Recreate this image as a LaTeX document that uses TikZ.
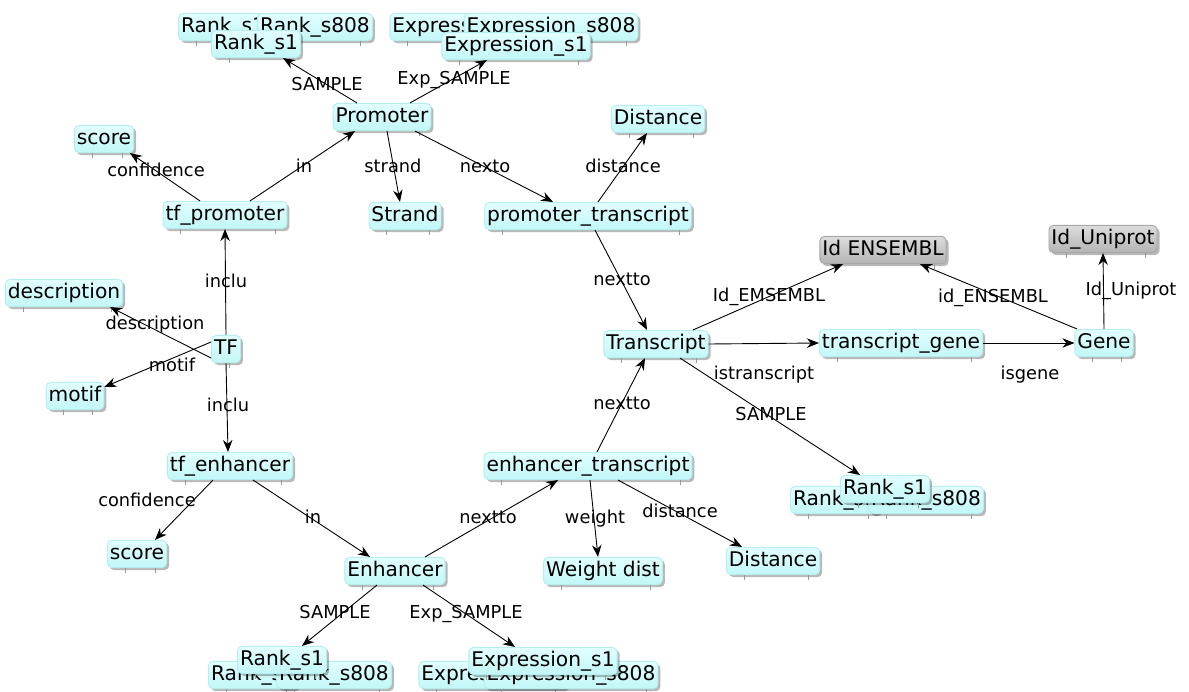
\documentclass[tikz,border=0pt]{standalone}
\usepackage{fontspec}
\setmainfont{DejaVu Sans}
\usetikzlibrary{shadows,arrows.meta,calc}
\definecolor{cyantop}{HTML}{E2FFFF}
\definecolor{cyanbot}{HTML}{C2F7F7}
\definecolor{cyanline}{HTML}{B4EEEE}
\definecolor{graytop}{HTML}{DCDCDC}
\definecolor{graybot}{HTML}{B4B4B4}
\definecolor{grayline}{HTML}{A8A8A8}
\newcommand\entfont{\fontsize{20.2}{23}\selectfont}
\newcommand\lblfont{\fontsize{17.8}{20}\selectfont}
\tikzset{
  tickline/.style={draw=black!40, line width=0.7pt},
  ent/.style={rounded corners=4.5pt, draw=cyanline, line width=0.9pt,
    top color=cyantop, bottom color=cyanbot,
    inner xsep=2.5pt, inner ysep=4pt, text height=15pt, text depth=4.2pt,
    font=\entfont,
    drop shadow={opacity=0.28, shadow xshift=2.5pt, shadow yshift=-2.5pt, fill=black},
    append after command={
      ([xshift=18pt]\tikzlastnode.south west) edge[tickline] ([xshift=18pt,yshift=-5pt]\tikzlastnode.south west)
      ([xshift=-12pt]\tikzlastnode.south east) edge[tickline] ([xshift=-12pt,yshift=-5pt]\tikzlastnode.south east)}},
  gent/.style={ent, draw=grayline, top color=graytop, bottom color=graybot},
  lbl/.style={font=\lblfont, inner sep=0pt, text height=12.8pt, text depth=3.6pt},
  edge line/.style={draw=black, line width=0.9pt, -{Stealth[length=12pt,width=9.5pt]}}
}
\begin{document}
\begin{tikzpicture}[x=1pt,y=-1pt]
\useasboundingbox (0,0) rectangle (1189,691);
% top sample nodes
\node[ent] (RankTb) at (223,27) {Rank\_s1};
\node[ent] (RankT808) at (315,27) {Rank\_s808};
\node[ent] (RankTf) at (256,44) {Rank\_s1};
\node[ent] (ExpTb) at (464,27) {Expression\_s1};
\node[ent] (ExpT808) at (551,27) {Expression\_s808};
\node[ent] (ExpTf) at (516,46) {Expression\_s1};
% main nodes
\node[ent] (Promoter) at (382,117) {Promoter};
\node[ent] (DistT) at (658,119) {Distance};
\node[ent] (scoreT) at (104,139) {score};
\node[ent] (tfp) at (225,215) {tf\_promoter};
\node[ent] (Strand) at (405,216) {Strand};
\node[ent] (pt) at (588,216) {promoter\_transcript};
\node[gent] (IdE) at (883,250) {Id ENSEMBL};
\node[gent] (IdU) at (1103,239) {Id\_Uniprot};
\node[ent] (desc) at (64,293) {description};
\node[ent] (Transcript) at (656,344) {Transcript};
\node[ent] (tg) at (901,343) {transcript\_gene};
\node[ent] (Gene) at (1104,343) {Gene};
\node[ent] (TF) at (226,349) {TF};
\node[ent] (motif) at (75,396) {motif};
\node[ent] (tfe) at (230,466) {tf\_enhancer};
\node[ent] (et) at (588,466) {enhancer\_transcript};
\node[ent] (RankRb) at (835,500) {Rank\_s1};
\node[ent] (RankR808) at (926,500) {Rank\_s808};
\node[ent] (RankRf) at (885,489) {Rank\_s1};
\node[ent] (scoreB) at (137,554) {score};
\node[ent] (DistB) at (773,561) {Distance};
\node[ent] (Enhancer) at (395,571) {Enhancer};
\node[ent] (WD) at (603,571) {Weight dist};
\node[ent] (RankBb) at (253,675) {Rank\_s1};
\node[ent] (RankB808) at (334,675) {Rank\_s808};
\node[ent] (RankBf) at (282,660) {Rank\_s1};
\node[ent] (ExpBb) at (493,675) {Expression\_s1};
\node[ent] (ExpB808) at (571,675) {Expression\_s808};
\node[ent] (ExpBf) at (543,661) {Expression\_s1};
% edges
\draw[edge line] ([xshift=-25pt]Promoter.north) -- ([xshift=27pt]RankTf.south);
\draw[edge line] ([xshift=28pt]Promoter.north) -- ([xshift=-29pt]ExpTf.south);
\draw[edge line] ([xshift=25pt]tfp.north) -- ([xshift=-27pt]Promoter.south);
\draw[edge line] ([xshift=5pt]Promoter.south) -- ([xshift=-5pt]Strand.north);
\draw[edge line] ([xshift=33pt]Promoter.south) -- ([xshift=-35pt]pt.north);
\draw[edge line] ([xshift=10pt]pt.north) -- ([xshift=-11pt]DistT.south);
\draw[edge line] ([xshift=-25pt]tfp.north) -- ([xshift=26pt]scoreT.south);
\draw[edge line] (TF.north) -- (tfp.south);
\draw[edge line] ([yshift=-9pt]TF.west) -- ([xshift=46pt]desc.south);
\draw[edge line] ([yshift=7pt]TF.west) -- ([yshift=-5pt]motif.north east);
\draw[edge line] (TF.south) -- ([xshift=-2pt]tfe.north);
\draw[edge line] ([xshift=-17pt]tfe.south) -- ([xshift=18pt]scoreB.north);
\draw[edge line] ([xshift=23pt]tfe.south) -- ([xshift=-25pt]Enhancer.north);
\draw[edge line] ([xshift=30pt]Enhancer.north) -- ([xshift=-30pt]et.south);
\draw[edge line] ([xshift=2pt]et.south) -- ([xshift=-5pt]WD.north);
\draw[edge line] ([xshift=30pt]et.south) -- ([xshift=-31pt]DistB.north);
\draw[edge line] ([xshift=9pt]et.north) -- ([xshift=-11pt]Transcript.south);
\draw[edge line] ([xshift=7pt]pt.south) -- ([xshift=-9pt]Transcript.north);
\draw[edge line] ([xshift=37pt]Transcript.north) -- ([xshift=-40pt]IdE.south);
\draw[edge line] ([xshift=-27pt]Gene.north) -- ([xshift=37pt]IdE.south);
\draw[edge line] (Gene.north) -- (IdU.south);
\draw[edge line] (Transcript.east) -- (tg.west);
\draw[edge line] (tg.east) -- (Gene.west);
\draw[edge line] ([xshift=24pt]Transcript.south) -- ([xshift=-25pt]RankRf.north);
\draw[edge line] ([xshift=-18pt]Enhancer.south) -- ([xshift=20pt]RankBf.north);
\draw[edge line] ([xshift=28pt]Enhancer.south) -- ([xshift=-28pt]ExpBf.north);
% edge labels
\node[lbl] (l1) at (327,86) {SAMPLE};
\node[lbl] (l2) at (454,80) {Exp\_SAMPLE};
\node[lbl] (l3) at (304,168) {in};
\node[lbl] (l4) at (156,172) {confidence};
\node[lbl] (l5) at (393,168) {strand};
\node[lbl] (l6) at (485,168) {nexto};
\node[lbl] (l7) at (623,168) {distance};
\node[lbl] (l8) at (226,283) {inclu};
\node[lbl] (l9) at (155,325) {description};
\node[lbl] (l10) at (172,367) {motif};
\node[lbl] (l11) at (228,407) {inclu};
\node[lbl] (l12) at (147,502) {confidence};
\node[lbl] (l13) at (313,519) {in};
\node[lbl] (l14) at (488,519) {nextto};
\node[lbl] (l15) at (595,519) {weight};
\node[lbl] (l16) at (680,513) {distance};
\node[lbl] (l17) at (622,281) {nextto};
\node[lbl] (l18) at (622,405) {nextto};
\node[lbl] (l19) at (769,297) {Id\_EMSEMBL};
\node[lbl] (l20) at (764,375) {istranscript};
\node[lbl] (l21) at (771,416) {SAMPLE};
\node[lbl] (l22) at (993,298) {id\_ENSEMBL};
\node[lbl] (l23) at (1131,291) {Id\_Uniprot};
\node[lbl] (l24) at (1030,375) {isgene};
\node[lbl] (l25) at (335,614) {SAMPLE};
\node[lbl] (l26) at (466,614) {Exp\_SAMPLE};
\end{tikzpicture}
\end{document}
